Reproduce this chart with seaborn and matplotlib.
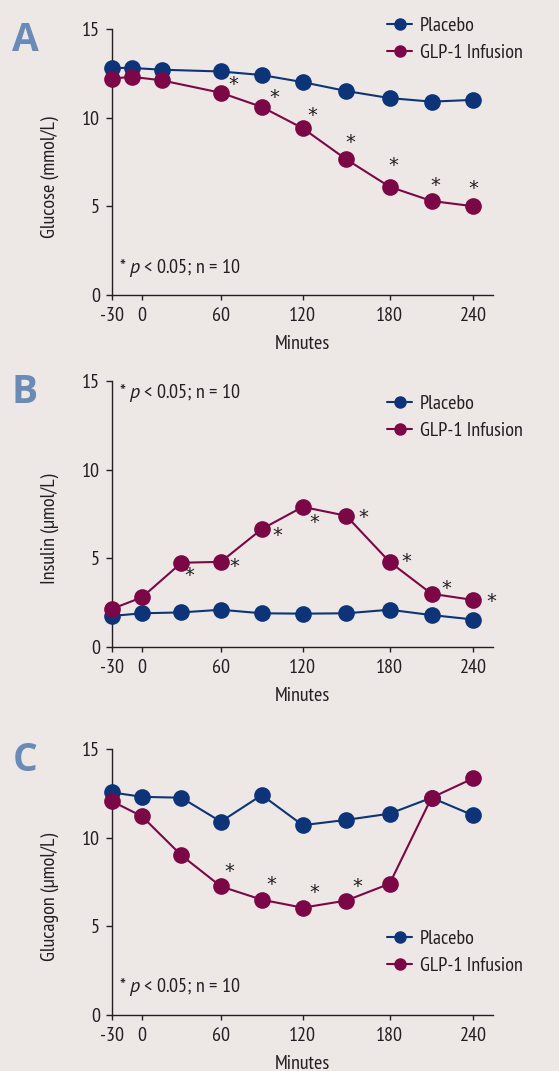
import matplotlib
matplotlib.use("Agg")
import matplotlib.pyplot as plt
import numpy as np
import pandas as pd
import seaborn as sns

# data
groups = ["Placebo", "GLP-1 Infusion"]

glucose_min = [-30, -10, 15, 60, 90, 120, 150, 180, 210, 240]
glucose_placebo = [12.8, 12.8, 12.7, 12.6, 12.4, 12.0, 11.5, 11.1, 10.9, 11.0]
glucose_glp1 = [12.2, 12.3, 12.1, 11.4, 10.6, 9.4, 7.65, 6.1, 5.3, 5.0]
glucose_sig = [3, 4, 5, 6, 7, 8, 9]

insulin_min = [-30, 0, 30, 60, 90, 120, 150, 180, 210, 240]
insulin_placebo = [1.75, 1.9, 1.95, 2.1, 1.9, 1.88, 1.9, 2.1, 1.8, 1.55]
insulin_glp1 = [2.15, 2.8, 4.75, 4.8, 6.65, 7.9, 7.4, 4.8, 3.0, 2.65]
insulin_sig = [2, 3, 4, 5, 6, 7, 8, 9]

glucagon_min = [-30, 0, 30, 60, 90, 120, 150, 180, 210, 240]
glucagon_placebo = [12.55, 12.3, 12.25, 10.9, 12.4, 10.7, 11.0, 11.35, 12.25, 11.25]
glucagon_glp1 = [12.05, 11.2, 9.0, 7.25, 6.5, 6.05, 6.45, 7.4, 12.25, 13.35]
glucagon_sig = [3, 4, 5, 6]

x_ticks = [-30, 0, 60, 120, 180, 240]
y_ticks = [0, 5, 10, 15]
note = r"* $\it{p}$ < 0.05; n = 10"

# asterisk offsets (points) from each marked GLP-1 point
glucose_star_off = [(9, 6), (9, 7), (7, 9), (3, 12), (3, 15), (3, 11), (0, 13)]
insulin_star_off = [(6, -9), (10, -3), (11, -5), (8, -11), (12, -1), (12, 0), (11, 4), (13, -1)]
glucagon_star_off = [(6, 11), (7, 11), (8, 11), (8, 10)]

bg = "#ede8e5"
ink = "#231f20"
colors = {"Placebo": "#0d3478", "GLP-1 Infusion": "#7b0747"}
letter_color = "#6a8bb5"

sns.set_theme(style="ticks")
font = ["PT Sans Narrow", "DejaVu Sans"]
plt.rcParams["font.family"] = font
plt.rcParams["mathtext.fontset"] = "custom"
plt.rcParams["mathtext.rm"] = "PT Sans Narrow"
plt.rcParams["mathtext.it"] = "PT Sans:italic"
plt.rcParams["axes.unicode_minus"] = False
plt.rcParams["text.color"] = ink

# the original time axis is uneven (squeezed before 0); follow its tick spacing
knot_min = [-60, -30, 0, 60, 120, 180, 240, 300]
knot_pos = [82, 112, 142, 221, 303, 390, 474, 558]


def fwd(x):
    return np.interp(x, knot_min, knot_pos)


def inv(x):
    return np.interp(x, knot_pos, knot_min)


fig = plt.figure(figsize=(5.59, 10.71), dpi=100)
fig.patch.set_facecolor(bg)

panels = [
    ("A", "Glucose (mmol/L)", glucose_min, glucose_placebo, glucose_glp1, glucose_sig,
     glucose_star_off, 0.7246, 0.960, 0.10),
    ("B", "Insulin (\u00b5mol/L)", insulin_min, insulin_placebo, insulin_glp1, insulin_sig,
     insulin_star_off, 0.3959, 0.863, 0.955),
    ("C", "Glucagon (\u00b5mol/L)", glucagon_min, glucagon_placebo, glucagon_glp1, glucagon_sig,
     glucagon_star_off, 0.0523, 0.235, 0.105),
]

for letter, ylab, mins, plc, glp, sig, offs, bottom, leg_y, note_y in panels:
    ax = fig.add_axes([0.2004, bottom, 0.6816, 0.2484])
    ax.set_facecolor(bg)
    df = pd.DataFrame({
        "Minutes": mins + mins,
        "value": plc + glp,
        "group": [groups[0]] * len(mins) + [groups[1]] * len(mins),
    })
    sns.lineplot(data=df, x="Minutes", y="value", hue="group", hue_order=groups,
                 palette=colors, marker="o", markersize=12, markeredgewidth=0,
                 linewidth=1.5, sort=False, ax=ax, clip_on=False, zorder=3)

    ax.set_xscale("function", functions=(fwd, inv))
    ax.set_xlim(-30, 254)
    ax.set_ylim(0, 15)
    ax.set_xticks(x_ticks)
    ax.set_xticklabels([str(t) for t in x_ticks])
    ax.set_yticks(y_ticks)
    ax.set_yticklabels([str(t) for t in y_ticks])
    ax.minorticks_off()
    ax.tick_params(axis="both", labelsize=14.5, colors=ink, width=1, direction="out")
    ax.tick_params(axis="y", length=4.5, pad=4)
    ax.tick_params(axis="x", length=3.5, pad=5)
    for side in ["top", "right"]:
        ax.spines[side].set_visible(False)
    for side in ["left", "bottom"]:
        ax.spines[side].set_color(ink)
        ax.spines[side].set_linewidth(1)

    ax.set_xlabel("Minutes", fontsize=14.5, color=ink)
    ax.xaxis.set_label_coords(0.5, -0.15)
    ax.set_ylabel(ylab, fontsize=14.5, color=ink)
    ax.yaxis.set_label_coords(-0.14, 0.444)

    # significance stars (DejaVu asterisk is closer in size to the original)
    for i, (dx, dy) in zip(sig, offs):
        ax.annotate("*", (mins[i], glp[i]), xytext=(dx, dy), textcoords="offset points",
                    ha="center", va="center", fontsize=14, color=ink, family="DejaVu Sans")

    ax.text(0.018, note_y, note, transform=ax.transAxes, ha="left", va="center",
            fontsize=14.5, color=ink)

    handles, labels = ax.get_legend_handles_labels()
    ax.legend(handles, labels, loc="center left", bbox_to_anchor=(0.722, leg_y),
              frameon=False, fontsize=14.5, handlelength=1.25, handletextpad=0.37,
              labelspacing=0.45, borderpad=0, borderaxespad=0, markerscale=0.75)

    fig.text(0.0447, bottom + 0.2484 - 0.0105, letter, ha="center", va="center",
             fontsize=28, fontweight="bold", color=letter_color, family="Open Sans")

fig.savefig("out.png", dpi=100, facecolor=bg)
